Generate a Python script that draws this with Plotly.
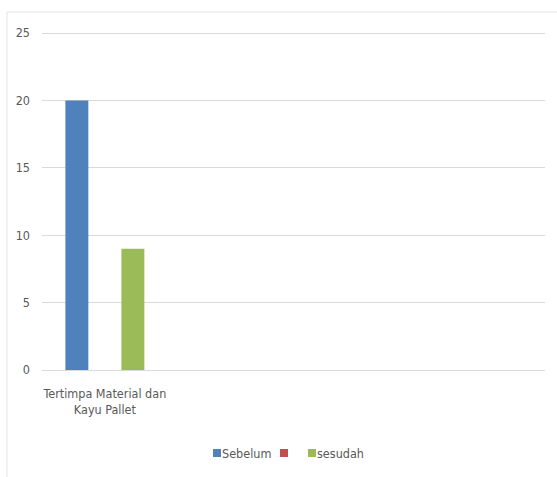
import plotly.graph_objects as go

# Data
categories = ["Tertimpa Material dan<br>Kayu Pallet"]
series_names = ["Sebelum", "", "sesudah"]
series_values = [[20], [0], [9]]
series_colors = ["#4F81BD", "#C0504D", "#9BBB59"]
y_ticks = [0, 5, 10, 15, 20, 25]
y_max = 25.3

W, H = 557, 477
L, R, T, B = 42, 12, 29, 107
PW, PH = W - L - R, H - T - B

FONT = "DejaVu Sans Condensed, Liberation Sans Narrow, sans-serif"
GRAY = "#595959"
FS = 12.5


def px_x(px):
    return (px - L) / PW


def px_y(py):
    return (H - B - py) / PH


fig = go.Figure()
for name, vals, col in zip(series_names, series_values, series_colors):
    fig.add_trace(go.Bar(
        x=list(range(len(vals))), y=vals, name=name,
        marker=dict(color=col, line=dict(width=0)),
        showlegend=False,
    ))

shapes = [
    # light frame around the chart area
    dict(type="line", xref="paper", yref="paper",
         x0=px_x(7), x1=px_x(W + 5), y0=px_y(12), y1=px_y(12),
         line=dict(color="#e3e3e3", width=1)),
    dict(type="line", xref="paper", yref="paper",
         x0=px_x(7), x1=px_x(7), y0=px_y(12), y1=px_y(H + 5),
         line=dict(color="#e3e3e3", width=1)),
]

# legend drawn at the bottom: coloured squares followed by series names
legend_sq_x = [213, 280, 308]
legend_txt_x = [220, 287, 315]
legend_y = 453
annotations = []
for name, col, sx, tx in zip(series_names, series_colors, legend_sq_x, legend_txt_x):
    shapes.append(dict(type="rect", xref="paper", yref="paper",
                       x0=px_x(sx), x1=px_x(sx + 8),
                       y0=px_y(legend_y + 4), y1=px_y(legend_y - 4),
                       fillcolor=col, line=dict(width=0)))
    if name:
        annotations.append(dict(xref="paper", yref="paper", x=px_x(tx), y=px_y(legend_y),
                                xanchor="left", yanchor="middle", showarrow=False,
                                text=name, font=dict(family=FONT, size=FS, color=GRAY)))

fig.update_layout(
    width=W, height=H,
    margin=dict(l=L, r=R, t=T, b=B),
    paper_bgcolor="white", plot_bgcolor="white",
    barmode="group", bargap=0.332, bargroupgap=0.18,
    font=dict(family=FONT, size=FS, color=GRAY),
    xaxis=dict(
        range=[-0.5, 3.5], tickmode="array",
        tickvals=list(range(len(categories))), ticktext=categories,
        showgrid=False, zeroline=False, showline=False, ticks="",
        tickfont=dict(family=FONT, size=FS, color=GRAY),
        ticklabelstandoff=14,
    ),
    yaxis=dict(
        range=[0, y_max], tickmode="array", tickvals=y_ticks,
        showgrid=True, gridcolor="#d9d9d9", gridwidth=1,
        zeroline=True, zerolinecolor="#d9d9d9", zerolinewidth=1,
        showline=False, ticks="",
        tickfont=dict(family=FONT, size=FS, color=GRAY),
        ticklabelstandoff=11,
    ),
    shapes=shapes,
    annotations=annotations,
)

fig.write_html("out.html")
